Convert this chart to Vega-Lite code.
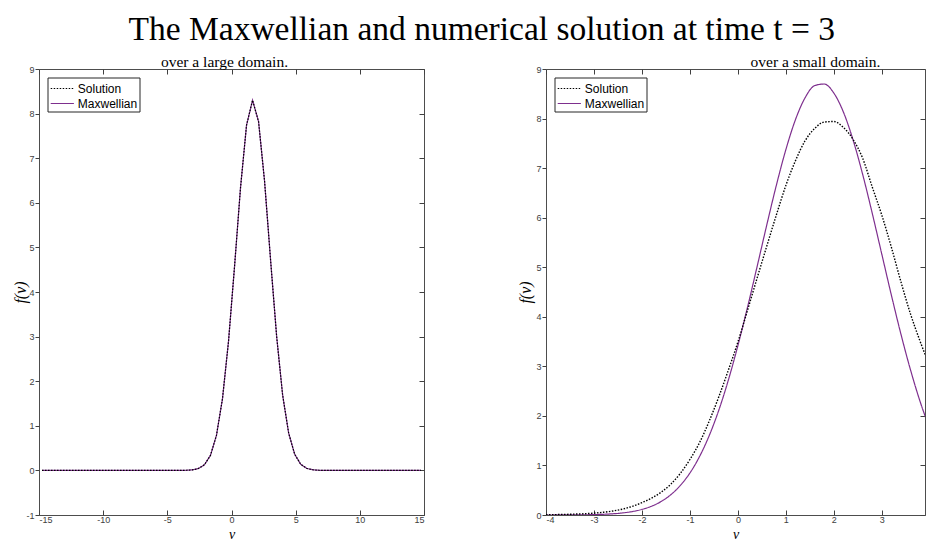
{
"$schema": "https://vega.github.io/schema/vega-lite/v6.json",
"background": "white",
"padding": {"left": 11, "top": 12, "right": 0, "bottom": 0},
"title": {"text": "The Maxwellian and numerical solution at time t = 3", "font": "Liberation Serif", "fontSize": 33.5, "fontWeight": "normal", "color": "black", "anchor": "middle", "offset": 7, "dx": 13},
"datasets": {
"left": [
{"v":-14.766,"f":0,"series":"Maxwellian"},{"v":-14.297,"f":0,"series":"Maxwellian"},{"v":-13.828,"f":0,"series":"Maxwellian"},{"v":-13.359,"f":0,"series":"Maxwellian"},{"v":-12.891,"f":0,"series":"Maxwellian"},{"v":-12.422,"f":0,"series":"Maxwellian"},{"v":-11.953,"f":0,"series":"Maxwellian"},{"v":-11.484,"f":0,"series":"Maxwellian"},{"v":-11.016,"f":0,"series":"Maxwellian"},{"v":-10.547,"f":0,"series":"Maxwellian"},{"v":-10.078,"f":0,"series":"Maxwellian"},{"v":-9.609,"f":0,"series":"Maxwellian"},{"v":-9.141,"f":0,"series":"Maxwellian"},{"v":-8.672,"f":0,"series":"Maxwellian"},{"v":-8.203,"f":0,"series":"Maxwellian"},{"v":-7.734,"f":0,"series":"Maxwellian"},{"v":-7.266,"f":0,"series":"Maxwellian"},{"v":-6.797,"f":0,"series":"Maxwellian"},{"v":-6.328,"f":0,"series":"Maxwellian"},{"v":-5.859,"f":0,"series":"Maxwellian"},{"v":-5.391,"f":0,"series":"Maxwellian"},{"v":-4.922,"f":0,"series":"Maxwellian"},{"v":-4.453,"f":0.0002,"series":"Maxwellian"},{"v":-3.984,"f":0.0005,"series":"Maxwellian"},{"v":-3.516,"f":0.003,"series":"Maxwellian"},{"v":-3.047,"f":0.012,"series":"Maxwellian"},{"v":-2.578,"f":0.042,"series":"Maxwellian"},{"v":-2.109,"f":0.127,"series":"Maxwellian"},{"v":-1.641,"f":0.336,"series":"Maxwellian"},{"v":-1.172,"f":0.785,"series":"Maxwellian"},{"v":-0.703,"f":1.606,"series":"Maxwellian"},{"v":-0.234,"f":2.89,"series":"Maxwellian"},{"v":0.234,"f":4.56,"series":"Maxwellian"},{"v":0.703,"f":6.34,"series":"Maxwellian"},{"v":1.172,"f":7.74,"series":"Maxwellian"},{"v":1.641,"f":8.3,"series":"Maxwellian"},{"v":2.109,"f":7.82,"series":"Maxwellian"},{"v":2.578,"f":6.48,"series":"Maxwellian"},{"v":3.047,"f":4.71,"series":"Maxwellian"},{"v":3.516,"f":3.01,"series":"Maxwellian"},{"v":3.984,"f":1.69,"series":"Maxwellian"},{"v":4.453,"f":0.837,"series":"Maxwellian"},{"v":4.922,"f":0.363,"series":"Maxwellian"},{"v":5.391,"f":0.138,"series":"Maxwellian"},{"v":5.859,"f":0.046,"series":"Maxwellian"},{"v":6.328,"f":0.014,"series":"Maxwellian"},{"v":6.797,"f":0.003,"series":"Maxwellian"},{"v":7.266,"f":0.0006,"series":"Maxwellian"},{"v":7.734,"f":0,"series":"Maxwellian"},{"v":8.203,"f":0,"series":"Maxwellian"},{"v":8.672,"f":0,"series":"Maxwellian"},{"v":9.141,"f":0,"series":"Maxwellian"},{"v":9.609,"f":0,"series":"Maxwellian"},{"v":10.078,"f":0,"series":"Maxwellian"},{"v":10.547,"f":0,"series":"Maxwellian"},{"v":11.016,"f":0,"series":"Maxwellian"},{"v":11.484,"f":0,"series":"Maxwellian"},{"v":11.953,"f":0,"series":"Maxwellian"},{"v":12.422,"f":0,"series":"Maxwellian"},{"v":12.891,"f":0,"series":"Maxwellian"},{"v":13.359,"f":0,"series":"Maxwellian"},{"v":13.828,"f":0,"series":"Maxwellian"},{"v":14.297,"f":0,"series":"Maxwellian"},{"v":14.766,"f":0,"series":"Maxwellian"},
{"v":-14.766,"f":0,"series":"Solution"},{"v":-14.297,"f":0,"series":"Solution"},{"v":-13.828,"f":0,"series":"Solution"},{"v":-13.359,"f":0,"series":"Solution"},{"v":-12.891,"f":0,"series":"Solution"},{"v":-12.422,"f":0,"series":"Solution"},{"v":-11.953,"f":0,"series":"Solution"},{"v":-11.484,"f":0,"series":"Solution"},{"v":-11.016,"f":0,"series":"Solution"},{"v":-10.547,"f":0,"series":"Solution"},{"v":-10.078,"f":0,"series":"Solution"},{"v":-9.609,"f":0,"series":"Solution"},{"v":-9.141,"f":0,"series":"Solution"},{"v":-8.672,"f":0,"series":"Solution"},{"v":-8.203,"f":0,"series":"Solution"},{"v":-7.734,"f":0,"series":"Solution"},{"v":-7.266,"f":0,"series":"Solution"},{"v":-6.797,"f":0,"series":"Solution"},{"v":-6.328,"f":0,"series":"Solution"},{"v":-5.859,"f":0,"series":"Solution"},{"v":-5.391,"f":0,"series":"Solution"},{"v":-4.922,"f":0,"series":"Solution"},{"v":-4.453,"f":0.0002,"series":"Solution"},{"v":-3.984,"f":0.0005,"series":"Solution"},{"v":-3.516,"f":0.003,"series":"Solution"},{"v":-3.047,"f":0.012,"series":"Solution"},{"v":-2.578,"f":0.042,"series":"Solution"},{"v":-2.109,"f":0.127,"series":"Solution"},{"v":-1.641,"f":0.336,"series":"Solution"},{"v":-1.172,"f":0.785,"series":"Solution"},{"v":-0.703,"f":1.606,"series":"Solution"},{"v":-0.234,"f":2.89,"series":"Solution"},{"v":0.234,"f":4.56,"series":"Solution"},{"v":0.703,"f":6.34,"series":"Solution"},{"v":1.172,"f":7.74,"series":"Solution"},{"v":1.641,"f":8.3,"series":"Solution"},{"v":2.109,"f":7.82,"series":"Solution"},{"v":2.578,"f":6.48,"series":"Solution"},{"v":3.047,"f":4.71,"series":"Solution"},{"v":3.516,"f":3.01,"series":"Solution"},{"v":3.984,"f":1.69,"series":"Solution"},{"v":4.453,"f":0.837,"series":"Solution"},{"v":4.922,"f":0.363,"series":"Solution"},{"v":5.391,"f":0.138,"series":"Solution"},{"v":5.859,"f":0.046,"series":"Solution"},{"v":6.328,"f":0.014,"series":"Solution"},{"v":6.797,"f":0.003,"series":"Solution"},{"v":7.266,"f":0.0006,"series":"Solution"},{"v":7.734,"f":0,"series":"Solution"},{"v":8.203,"f":0,"series":"Solution"},{"v":8.672,"f":0,"series":"Solution"},{"v":9.141,"f":0,"series":"Solution"},{"v":9.609,"f":0,"series":"Solution"},{"v":10.078,"f":0,"series":"Solution"},{"v":10.547,"f":0,"series":"Solution"},{"v":11.016,"f":0,"series":"Solution"},{"v":11.484,"f":0,"series":"Solution"},{"v":11.953,"f":0,"series":"Solution"},{"v":12.422,"f":0,"series":"Solution"},{"v":12.891,"f":0,"series":"Solution"},{"v":13.359,"f":0,"series":"Solution"},{"v":13.828,"f":0,"series":"Solution"},{"v":14.297,"f":0,"series":"Solution"},{"v":14.766,"f":0,"series":"Solution"}
],
"right": [
{"v":-4.0,"f":0.0003,"series":"Maxwellian"},{"v":-3.8,"f":0.0006,"series":"Maxwellian"},{"v":-3.6,"f":0.0012,"series":"Maxwellian"},{"v":-3.4,"f":0.0023,"series":"Maxwellian"},{"v":-3.2,"f":0.0044,"series":"Maxwellian"},{"v":-3.0,"f":0.008,"series":"Maxwellian"},{"v":-2.8,"f":0.0143,"series":"Maxwellian"},{"v":-2.6,"f":0.0249,"series":"Maxwellian"},{"v":-2.4,"f":0.0422,"series":"Maxwellian"},{"v":-2.2,"f":0.0698,"series":"Maxwellian"},{"v":-2.0,"f":0.1126,"series":"Maxwellian"},{"v":-1.8,"f":0.177,"series":"Maxwellian"},{"v":-1.6,"f":0.272,"series":"Maxwellian"},{"v":-1.4,"f":0.408,"series":"Maxwellian"},{"v":-1.2,"f":0.596,"series":"Maxwellian"},{"v":-1.0,"f":0.848,"series":"Maxwellian"},{"v":-0.8,"f":1.179,"series":"Maxwellian"},{"v":-0.6,"f":1.597,"series":"Maxwellian"},{"v":-0.4,"f":2.11,"series":"Maxwellian"},{"v":-0.2,"f":2.719,"series":"Maxwellian"},{"v":0.0,"f":3.419,"series":"Maxwellian"},{"v":0.2,"f":4.191,"series":"Maxwellian"},{"v":0.4,"f":5.011,"series":"Maxwellian"},{"v":0.6,"f":5.845,"series":"Maxwellian"},{"v":0.8,"f":6.648,"series":"Maxwellian"},{"v":1.0,"f":7.374,"series":"Maxwellian"},{"v":1.2,"f":7.978,"series":"Maxwellian"},{"v":1.4,"f":8.419,"series":"Maxwellian"},{"v":1.6,"f":8.664,"series":"Maxwellian"},{"v":1.8,"f":8.697,"series":"Maxwellian"},{"v":2.0,"f":8.514,"series":"Maxwellian"},{"v":2.2,"f":8.129,"series":"Maxwellian"},{"v":2.4,"f":7.57,"series":"Maxwellian"},{"v":2.6,"f":6.876,"series":"Maxwellian"},{"v":2.8,"f":6.09,"series":"Maxwellian"},{"v":3.0,"f":5.262,"series":"Maxwellian"},{"v":3.2,"f":4.433,"series":"Maxwellian"},{"v":3.4,"f":3.643,"series":"Maxwellian"},{"v":3.6,"f":2.921,"series":"Maxwellian"},{"v":3.8,"f":2.283,"series":"Maxwellian"},{"v":4.0,"f":1.741,"series":"Maxwellian"},
{"v":-4.0,"f":0.005,"series":"Solution"},{"v":-3.8,"f":0.008,"series":"Solution"},{"v":-3.6,"f":0.012,"series":"Solution"},{"v":-3.4,"f":0.018,"series":"Solution"},{"v":-3.2,"f":0.026,"series":"Solution"},{"v":-3.0,"f":0.038,"series":"Solution"},{"v":-2.8,"f":0.056,"series":"Solution"},{"v":-2.6,"f":0.082,"series":"Solution"},{"v":-2.4,"f":0.12,"series":"Solution"},{"v":-2.2,"f":0.175,"series":"Solution"},{"v":-2.0,"f":0.25,"series":"Solution"},{"v":-1.8,"f":0.34,"series":"Solution"},{"v":-1.6,"f":0.46,"series":"Solution"},{"v":-1.4,"f":0.62,"series":"Solution"},{"v":-1.2,"f":0.84,"series":"Solution"},{"v":-1.0,"f":1.12,"series":"Solution"},{"v":-0.8,"f":1.46,"series":"Solution"},{"v":-0.6,"f":1.89,"series":"Solution"},{"v":-0.4,"f":2.38,"series":"Solution"},{"v":-0.2,"f":2.92,"series":"Solution"},{"v":0.0,"f":3.49,"series":"Solution"},{"v":0.2,"f":4.13,"series":"Solution"},{"v":0.4,"f":4.78,"series":"Solution"},{"v":0.6,"f":5.42,"series":"Solution"},{"v":0.8,"f":6.05,"series":"Solution"},{"v":1.0,"f":6.65,"series":"Solution"},{"v":1.2,"f":7.15,"series":"Solution"},{"v":1.4,"f":7.55,"series":"Solution"},{"v":1.6,"f":7.8,"series":"Solution"},{"v":1.8,"f":7.93,"series":"Solution"},{"v":2.0,"f":7.94,"series":"Solution"},{"v":2.2,"f":7.82,"series":"Solution"},{"v":2.4,"f":7.58,"series":"Solution"},{"v":2.6,"f":7.2,"series":"Solution"},{"v":2.8,"f":6.62,"series":"Solution"},{"v":3.0,"f":6.05,"series":"Solution"},{"v":3.2,"f":5.4,"series":"Solution"},{"v":3.4,"f":4.7,"series":"Solution"},{"v":3.6,"f":4.05,"series":"Solution"},{"v":3.8,"f":3.5,"series":"Solution"},{"v":4.0,"f":3.0,"series":"Solution"}
]
},
"spacing": 122,
"bounds": "flush",
"resolve": {"scale": {"color": "independent", "strokeDash": "independent"}},
"hconcat": [
{
"width": 385, "height": 446,
"title": {"text": "over a large domain.", "font": "Liberation Serif", "fontSize": 15.5, "fontWeight": "normal", "color": "black", "anchor": "middle", "offset": 3, "dx": -7, "dy": 8},
"data": {"name": "left"},
"resolve": {"axis": {"x": "independent", "y": "independent"}},
"layer": [
{
"transform": [{"filter": "datum.series === 'Maxwellian'"}],
"mark": {"type": "line", "strokeWidth": 1.2, "clip": true},
"encoding": {
"x": {"field": "v", "type": "quantitative", "scale": {"domain": [-15, 15], "nice": false, "zero": false}, "axis": {"orient": "bottom", "values": [-15, -10, -5, 0, 5, 10, 15], "labelExpr": "'' + datum.value", "title": "v", "titleX": 192.5, "titleY": 19, "titleFontSize": 14, "titleBaseline": "middle", "tickSize": -5, "labelPadding": 5}},
"y": {"field": "f", "type": "quantitative", "scale": {"domain": [-1, 9], "nice": false, "zero": false}, "axis": {"orient": "left", "values": [-1, 0, 1, 2, 3, 4, 5, 6, 7, 8, 9], "labelExpr": "'' + datum.value", "title": "f(v)", "titleX": -19, "titleY": 223, "titleBaseline": "middle", "titleAlign": "center", "tickSize": 4, "labelPadding": 1}},
"color": {"field": "series", "type": "nominal", "scale": {"domain": ["Solution", "Maxwellian"], "range": ["#000000", "#7E2F8E"]}, "legend": {"orient": "none", "legendX": 8.5, "legendY": 8.5, "title": null}},
"strokeDash": {"field": "series", "type": "nominal", "scale": {"domain": ["Solution", "Maxwellian"], "range": [[1.5, 1.5], [1, 0]]}, "legend": {"orient": "none", "legendX": 8.5, "legendY": 8.5, "title": null}}
}
},
{
"transform": [{"filter": "datum.series === 'Solution'"}],
"mark": {"type": "line", "strokeWidth": 1.2, "clip": true},
"encoding": {
"x": {"field": "v", "type": "quantitative", "axis": {"orient": "top", "values": [-15, -10, -5, 0, 5, 10, 15], "labels": false, "title": null, "tickSize": -5}},
"y": {"field": "f", "type": "quantitative", "axis": {"orient": "right", "values": [-1, 0, 1, 2, 3, 4, 5, 6, 7, 8, 9], "labels": false, "title": null, "tickSize": -5}},
"color": {"field": "series", "type": "nominal"},
"strokeDash": {"field": "series", "type": "nominal"}
}
}
]
},
{
"width": 379, "height": 446,
"title": {"text": "over a small domain.", "font": "Liberation Serif", "fontSize": 15.5, "fontWeight": "normal", "color": "black", "anchor": "middle", "offset": 3, "dx": 80, "dy": 8},
"data": {"name": "right"},
"resolve": {"axis": {"x": "independent", "y": "independent"}},
"layer": [
{
"transform": [{"filter": "datum.series === 'Maxwellian'"}],
"mark": {"type": "line", "strokeWidth": 1.2, "clip": true, "interpolate": "monotone"},
"encoding": {
"x": {"field": "v", "type": "quantitative", "scale": {"domain": [-4, 3.9], "nice": false, "zero": false}, "axis": {"orient": "bottom", "values": [-4, -3, -2, -1, 0, 1, 2, 3], "labelExpr": "'' + datum.value", "title": "v", "titleX": 189.5, "titleY": 19, "titleFontSize": 14, "titleBaseline": "middle", "tickSize": -5, "labelPadding": 5}},
"y": {"field": "f", "type": "quantitative", "scale": {"domain": [0, 9], "nice": false, "zero": false}, "axis": {"orient": "left", "values": [0, 1, 2, 3, 4, 5, 6, 7, 8, 9], "labelExpr": "'' + datum.value", "title": "f(v)", "titleX": -21, "titleY": 223, "titleBaseline": "middle", "titleAlign": "center", "tickSize": 4, "labelPadding": 1}},
"color": {"field": "series", "type": "nominal", "scale": {"domain": ["Solution", "Maxwellian"], "range": ["#000000", "#7E2F8E"]}, "legend": {"orient": "none", "legendX": 8.5, "legendY": 8.5, "title": null}},
"strokeDash": {"field": "series", "type": "nominal", "scale": {"domain": ["Solution", "Maxwellian"], "range": [[1.5, 1.5], [1, 0]]}, "legend": {"orient": "none", "legendX": 8.5, "legendY": 8.5, "title": null}}
}
},
{
"transform": [{"filter": "datum.series === 'Solution'"}],
"mark": {"type": "line", "strokeWidth": 1.4, "clip": true, "interpolate": "monotone"},
"encoding": {
"x": {"field": "v", "type": "quantitative", "axis": {"orient": "top", "values": [-4, -3, -2, -1, 0, 1, 2, 3], "labels": false, "title": null, "tickSize": -5}},
"y": {"field": "f", "type": "quantitative", "axis": {"orient": "right", "values": [0, 1, 2, 3, 4, 5, 6, 7, 8, 9], "labels": false, "title": null, "tickSize": -5}},
"color": {"field": "series", "type": "nominal"},
"strokeDash": {"field": "series", "type": "nominal"}
}
}
]
}
],
"config": {
"view": {"stroke": "#4d4d4d", "strokeWidth": 1},
"axis": {"domain": false, "grid": false, "labelFont": "Liberation Sans", "labelFontSize": 9, "labelColor": "#404040", "tickColor": "#404040", "tickWidth": 1, "titleFont": "Liberation Serif", "titleFontStyle": "italic", "titleFontWeight": "normal", "titleFontSize": 16, "titleColor": "black"},
"legend": {"strokeColor": "#262626", "fillColor": "white", "padding": 2, "labelFont": "Liberation Sans", "labelFontSize": 12, "labelColor": "black", "symbolType": "M-1.45,0L1.45,0", "symbolSize": 256, "symbolStrokeWidth": 1.2, "symbolOffset": 3.8, "rowPadding": 0, "labelOffset": 6.5, "cornerRadius": 0}
}
}
